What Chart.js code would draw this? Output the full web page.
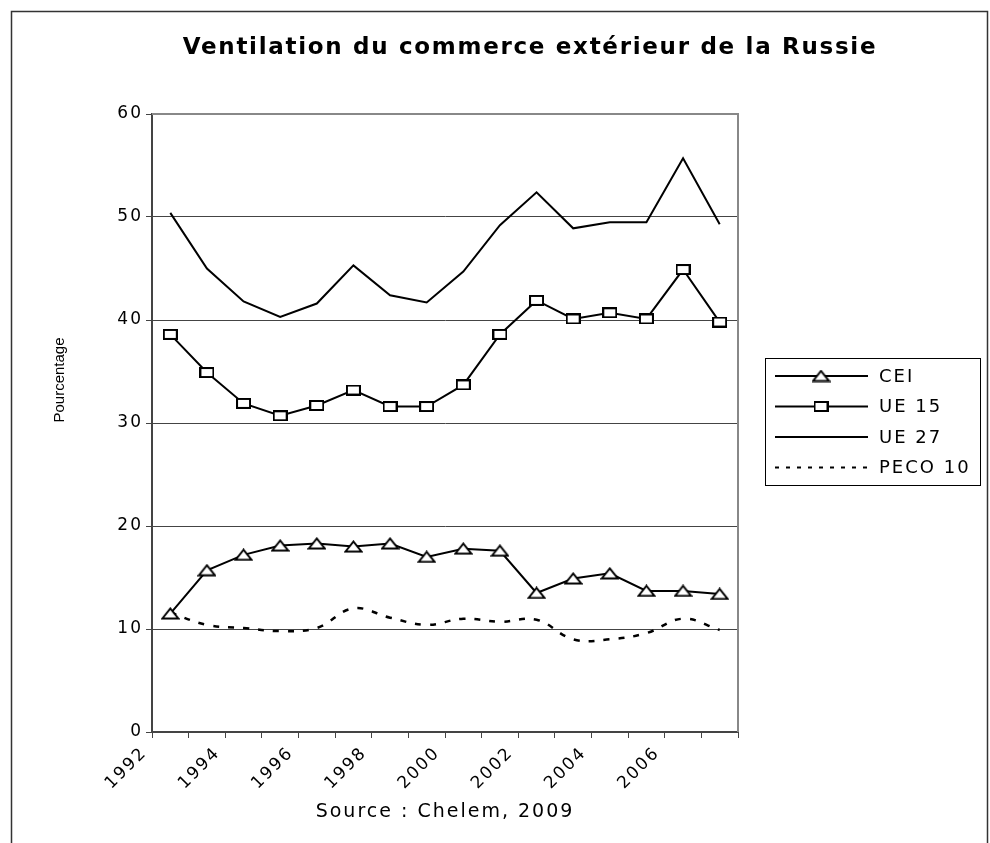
<!DOCTYPE html>
<html>
<head>
<meta charset="utf-8">
<script src="https://cdn.jsdelivr.net/npm/chart.js@4.4.1/dist/chart.umd.min.js"></script>
<style>
  html, body { margin: 0; padding: 0; background: #fff; }
</style>
</head>
<body>
<canvas id="russieChart" width="990" height="843"></canvas>
<script>
const years = ['1992', '1993', '1994', '1995', '1996', '1997', '1998', '1999',
               '2000', '2001', '2002', '2003', '2004', '2005', '2006', '2007'];
const xTickLabels = ['1992', '', '1994', '', '1996', '', '1998', '',
                     '2000', '', '2002', '', '2004', '', '2006', ''];
const cei    = [11.5, 15.7, 17.2, 18.1, 18.3, 18.0, 18.3, 17.0, 17.8, 17.6, 13.5, 14.9, 15.4, 13.7, 13.7, 13.4];
const ue15   = [38.6, 34.9, 31.9, 30.7, 31.7, 33.2, 31.6, 31.6, 33.7, 38.6, 41.9, 40.1, 40.7, 40.1, 44.9, 39.8];
const ue27   = [50.4, 45.0, 41.8, 40.3, 41.6, 45.3, 42.4, 41.7, 44.7, 49.2, 52.4, 48.9, 49.5, 49.5, 55.7, 49.3];
const peco10 = [11.6, 10.4, 10.1, 9.8, 10.1, 12.0, 11.1, 10.4, 11.0, 10.7, 10.9, 9.0, 9.0, 9.6, 11.0, 9.9];
const yMin = 0, yMax = 60, yStep = 10;

const FONT = '"DejaVu Sans", sans-serif';

// flattened markers, like the excel export
function triangleMarker() {
  const m = document.createElement('canvas');
  m.width = 19; m.height = 13;
  const c = m.getContext('2d');
  c.beginPath();
  c.moveTo(1.5, 11.5); c.lineTo(9.5, 1.5); c.lineTo(17.5, 11.5); c.closePath();
  c.fillStyle = '#fff'; c.fill();
  c.lineWidth = 2; c.strokeStyle = '#000'; c.stroke();
  return m;
}
function squareMarker() {
  const m = document.createElement('canvas');
  m.width = 15; m.height = 11;
  const c = m.getContext('2d');
  c.fillStyle = '#fff'; c.fillRect(1, 1, 13, 9);
  c.lineWidth = 2; c.strokeStyle = '#000'; c.strokeRect(1, 1, 13, 9);
  return m;
}

const framePlugin = {
  id: 'frame',
  beforeDraw(chart) {
    const c = chart.ctx;
    c.save();
    c.fillStyle = '#fff';
    c.fillRect(0, 0, chart.width, chart.height);
    c.strokeStyle = '#333';
    c.lineWidth = 1.5;
    c.strokeRect(11.5, 11.5, 976, 900);
    c.restore();
    c.letterSpacing = '2px'; // the excel text is wide
  },
  beforeDatasetsDraw(chart) {
    const c = chart.ctx;
    const a = chart.chartArea;
    c.letterSpacing = '0px';
    c.save();
    c.strokeStyle = '#888';
    c.lineWidth = 2;
    c.beginPath();
    c.moveTo(a.left, a.top);
    c.lineTo(a.right, a.top);
    c.lineTo(a.right, a.bottom);
    c.stroke();
    c.restore();
  },
  afterDraw(chart) {
    const c = chart.ctx;
    c.save();
    c.letterSpacing = '1.7px';
    c.fillStyle = '#000';
    c.font = 'bold 23px ' + FONT;
    c.textAlign = 'center';
    c.textBaseline = 'middle';
    c.fillText('Ventilation du commerce extérieur de la Russie', 530, 48);

    c.letterSpacing = '0px';
    c.translate(60, 380);
    c.rotate(-Math.PI / 2);
    c.font = '15px "Liberation Sans Narrow", "Liberation Sans", sans-serif';
    c.fillText('Pourcentage', 0, 0);
    c.restore();

    // legend
    c.save();
    c.strokeStyle = '#000';
    c.lineWidth = 1;
    c.strokeRect(765.5, 358.5, 215, 127);
    chart.data.datasets.forEach((ds, i) => {
      const y = 376 + i * 30.5;
      c.beginPath();
      c.setLineDash(ds.legendDash || []);
      c.lineWidth = 2;
      c.strokeStyle = '#000';
      c.moveTo(775, y);
      c.lineTo(868, y);
      c.stroke();
      c.setLineDash([]);
      if (ds.pointStyle instanceof HTMLCanvasElement) {
        c.drawImage(ds.pointStyle, 821 - ds.pointStyle.width / 2, y - ds.pointStyle.height / 2);
      }
      c.fillStyle = '#000';
      c.font = '18px ' + FONT;
      c.letterSpacing = '2px';
      c.textBaseline = 'middle';
      c.fillText(ds.label, 879, y + 1);
      c.letterSpacing = '0px';
    });
    c.restore();
  }
};

new Chart(document.getElementById('russieChart'), {
  type: 'line',
  data: {
    labels: years,
    datasets: [
      {
        label: 'CEI',
        data: cei,
        borderColor: '#000',
        borderWidth: 2,
        pointStyle: triangleMarker(),
        pointRadius: 5,
        tension: 0
      },
      {
        label: 'UE 15',
        data: ue15,
        borderColor: '#000',
        borderWidth: 2,
        pointStyle: squareMarker(),
        pointRadius: 5,
        tension: 0
      },
      {
        label: 'UE 27',
        data: ue27,
        borderColor: '#000',
        borderWidth: 2,
        pointRadius: 0,
        tension: 0
      },
      {
        label: 'PECO 10',
        data: peco10,
        borderColor: '#000',
        borderWidth: 2.5,
        borderDash: [6, 9],
        legendDash: [4, 7],
        pointRadius: 0,
        tension: 0.4
      }
    ]
  },
  options: {
    responsive: false,
    animation: false,
    events: [],
    layout: {
      padding: { top: 114, right: 252, bottom: 0, left: 0 }
    },
    plugins: {
      legend: { display: false },
      tooltip: { enabled: false }
    },
    scales: {
      x: {
        offset: true,
        afterFit: (scale) => { scale.height = 111; },
        grid: {
          offset: true,
          drawOnChartArea: false,
          drawTicks: true,
          tickLength: 6,
          color: '#444'
        },
        border: { color: '#444', width: 2 },
        ticks: {
          autoSkip: false,
          minRotation: 45,
          maxRotation: 45,
          labelOffset: -26,
          padding: 5,
          color: '#000',
          font: { family: FONT, size: 17 },
          callback: (v, i) => xTickLabels[i]
        },
        title: {
          display: true,
          text: 'Source : Chelem, 2009',
          color: '#000',
          font: { family: FONT, size: 19 },
          padding: { top: 0, bottom: 20 }
        }
      },
      y: {
        min: yMin,
        max: yMax,
        afterFit: (scale) => { scale.width = 152; },
        ticks: {
          stepSize: yStep,
          padding: 3,
          color: '#000',
          font: { family: FONT, size: 17 }
        },
        grid: {
          color: (ctx) => (ctx.tick.value === yMax || ctx.tick.value === yMin) ? 'rgba(0,0,0,0)' : '#444',
          tickColor: '#444',
          lineWidth: 1,
          tickLength: 6
        },
        border: { color: '#444', width: 2 }
      }
    }
  },
  plugins: [framePlugin]
});
</script>
</body>
</html>
